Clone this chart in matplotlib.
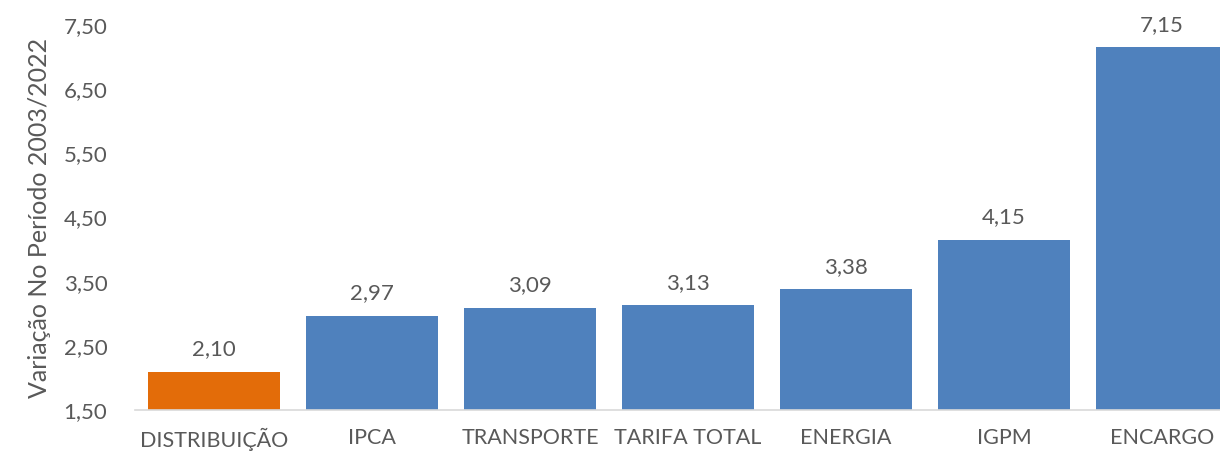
import matplotlib
matplotlib.use("Agg")
import matplotlib.pyplot as plt

# data
categorias = ["DISTRIBUIÇÃO", "IPCA", "TRANSPORTE", "TARIFA TOTAL", "ENERGIA", "IGPM", "ENCARGO"]
valores = [2.10, 2.97, 3.09, 3.13, 3.38, 4.15, 7.15]
yticks = [1.5, 2.5, 3.5, 4.5, 5.5, 6.5, 7.5]

plt.rcParams['font.family'] = ['Lato', 'DejaVu Sans']
cinza = '#595959'
cores = ['#E36C09'] + ['#4F81BD'] * (len(valores) - 1)

fig = plt.figure(figsize=(12.2, 4.54), dpi=100)
ax = fig.add_axes([0.1107, 0.0969, 0.9066, 0.848])

x = range(len(categorias))
bars = ax.bar(x, [v - 1.5 for v in valores], bottom=1.5, width=0.835, color=cores)
ax.set_xlim(-0.5, len(categorias) - 0.5)
ax.set_ylim(1.5, 7.5)

for b, v in zip(bars, valores):
    ax.annotate(f"{v:.2f}".replace('.', ','), (b.get_x() + b.get_width() / 2, v),
                xytext=(0, 9), textcoords='offset points', ha='center', va='bottom',
                fontsize=16, color=cinza, annotation_clip=False)

ax.set_xticks(list(x))
ax.set_xticklabels(categorias, fontsize=15.5, color=cinza)
ax.set_yticks(yticks)
ax.set_yticklabels([f"{t:.2f}".replace('.', ',') for t in yticks], fontsize=16, color=cinza)
ax.tick_params(axis='both', length=0)
ax.tick_params(axis='y', pad=20)
ax.tick_params(axis='x', pad=13)
ax.set_ylabel("Variação No Período 2003/2022", fontsize=18, color=cinza, labelpad=9)

for s in ['top', 'right', 'left']:
    ax.spines[s].set_visible(False)
ax.spines['bottom'].set_color('#D9D9D9')
ax.spines['bottom'].set_linewidth(1.2)

fig.savefig("out.png", dpi=100)
